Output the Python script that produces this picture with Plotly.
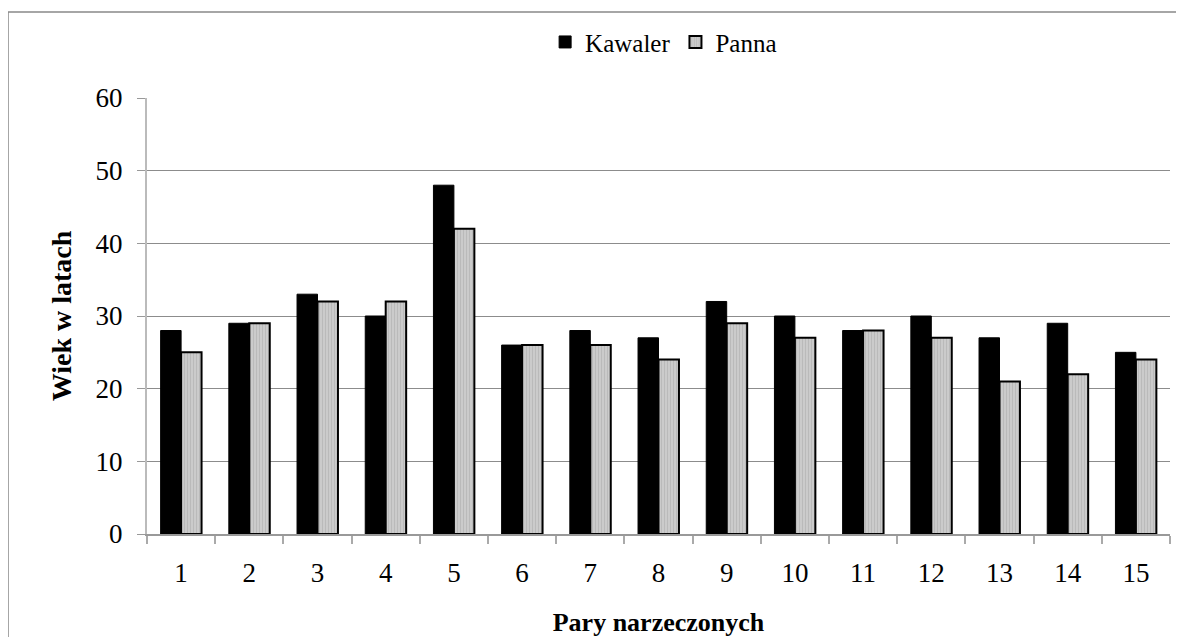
import plotly.graph_objects as go

pary = [str(i) for i in range(1, 16)]
kawaler = [28, 29, 33, 30, 48, 26, 28, 27, 32, 30, 28, 30, 27, 29, 25]
panna = [25, 29, 32, 32, 42, 26, 26, 24, 29, 27, 28, 27, 21, 22, 24]
y_ticks = [0, 10, 20, 30, 40, 50, 60]

W, H = 1168, 629
L, R, T, B = 139, 6, 90, 103
pw, ph = W - L - R, H - T - B

font = "Liberation Serif"

fig = go.Figure()
fig.add_trace(go.Bar(
    x=pary, y=kawaler, name="Kawaler",
    marker=dict(color="#000000", line=dict(color="#000000", width=1)),
))
fig.add_trace(go.Bar(
    x=pary, y=panna, name="Panna",
    marker=dict(color="#c4c4c4",
                pattern=dict(shape="|", fgcolor="#a8a8a8", bgcolor="#cccccc", size=3, solidity=0.4),
                line=dict(color="#000000", width=2)),
))

fig.update_layout(
    width=W, height=H,
    margin=dict(l=L, r=R, t=T, b=B, autoexpand=False),
    paper_bgcolor="white", plot_bgcolor="white",
    barmode="group", bargap=0.4, bargroupgap=0.0,
    font=dict(family=font, color="black"),
    legend=dict(orientation="h", x=0.505, y=1.128, xanchor="center", yanchor="middle",
                font=dict(size=25, family=font, color="black"), itemwidth=30, traceorder="normal",
                bgcolor="rgba(0,0,0,0)"),
    xaxis=dict(
        type="category", tickson="boundaries", ticks="outside", ticklen=8,
        tickcolor="#aaaaaa", tickwidth=1.5, showline=True, linecolor="#999999", linewidth=1.5,
        tickfont=dict(size=27, family=font), showgrid=False, ticklabelstandoff=14,
        automargin=False,
        title=dict(text="<b>Pary narzeczonych</b>", font=dict(size=26, family=font), standoff=29),
    ),
    yaxis=dict(
        range=[0, 60], tickvals=y_ticks, ticks="outside", ticklen=8,
        tickcolor="#999999", tickwidth=1.2, showline=True, linecolor="#bbbbbb", linewidth=2,
        showgrid=True, gridcolor="#8c8c8c", gridwidth=1, zeroline=False,
        tickfont=dict(size=27, family=font), ticklabelstandoff=9,
        automargin=False,
        title=dict(text="<b>Wiek w latach</b>", font=dict(size=28, family=font), standoff=16),
    ),
)

# outer chart border (left and top edges visible)
bx = (0 - L) / pw
by = (H - B - 4) / ph
fig.add_shape(type="line", xref="paper", yref="paper", x0=bx, x1=1.2, y0=by, y1=by,
              line=dict(color="#888888", width=1.5))
fig.add_shape(type="line", xref="paper", yref="paper", x0=bx, x1=bx, y0=by, y1=-0.5,
              line=dict(color="#888888", width=1.5))

fig.write_html("out.html")
